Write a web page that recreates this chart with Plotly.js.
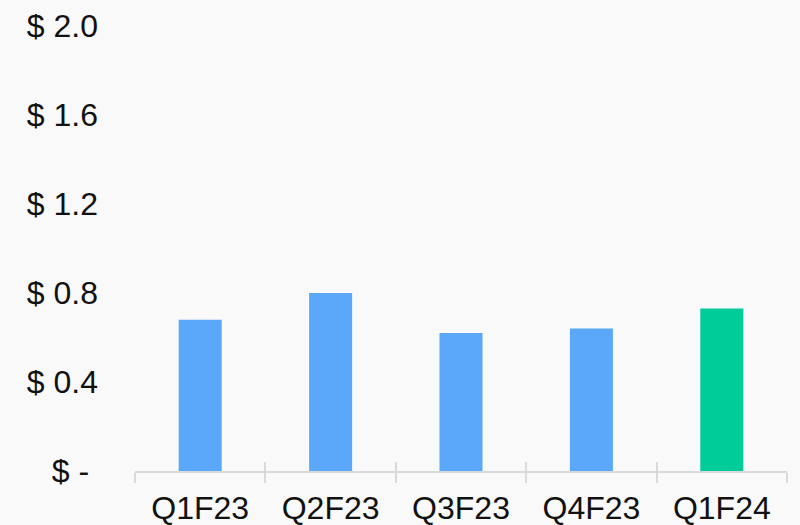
<!DOCTYPE html>
<html>
<head>
<meta charset="utf-8">
<script src="https://cdn.plot.ly/plotly-3.0.1.min.js"></script>
<style>
  html, body { margin: 0; padding: 0; background: #f9f9f9; }
  #chart { width: 800px; height: 525px; }
</style>
</head>
<body>
<div id="chart"></div>
<script>
// Quarterly values (USD)
const quarters = ["Q1F23", "Q2F23", "Q3F23", "Q4F23", "Q1F24"];
const values = [0.68, 0.80, 0.62, 0.64, 0.73];
const yTickVals = [0, 0.4, 0.8, 1.2, 1.6, 2.0];
const yTickText = ["$ -\u00a0", "$ 0.4", "$ 0.8", "$ 1.2", "$ 1.6", "$ 2.0"];

const BLUE = "#5ba8fb";
const GREEN = "#00cc9a";
const AXIS = "#d9d9d9";
const FONT = "Liberation Sans, Arial, sans-serif";
const TEXT = "#111111";

// latest quarter is highlighted
const barColors = quarters.map((q, i) => i === quarters.length - 1 ? GREEN : BLUE);

const bars = {
  type: "bar",
  x: quarters,
  y: values,
  marker: { color: barColors, line: { width: 0 } },
  hoverinfo: "x+y"
};

// invisible copy on an overlay axis, used only to draw the upward half of the boundary ticks
const tickHelper = {
  type: "bar",
  x: quarters,
  y: values,
  xaxis: "x2",
  opacity: 0,
  hoverinfo: "skip",
  showlegend: false
};

const layout = {
  width: 800,
  height: 525,
  paper_bgcolor: "#f9f9f9",
  plot_bgcolor: "#f9f9f9",
  margin: { l: 135, r: 13, t: 26, b: 54 },
  showlegend: false,
  bargap: 0.67,
  font: { family: FONT, size: 32, color: TEXT },
  xaxis: {
    type: "category",
    showline: true,
    linecolor: AXIS,
    linewidth: 2,
    ticks: "outside",
    tickson: "boundaries",
    ticklen: 10,
    tickwidth: 2,
    tickcolor: AXIS,
    showgrid: false,
    zeroline: false,
    ticklabelstandoff: 8,
    tickfont: { family: FONT, size: 32, color: TEXT }
  },
  xaxis2: {
    type: "category",
    overlaying: "x",
    side: "bottom",
    anchor: "y",
    showline: false,
    ticks: "inside",
    tickson: "boundaries",
    ticklen: 9,
    tickwidth: 2,
    tickcolor: AXIS,
    showgrid: false,
    zeroline: false,
    showticklabels: false
  },
  yaxis: {
    range: [0, 2],
    tickmode: "array",
    tickvals: yTickVals,
    ticktext: yTickText,
    showgrid: false,
    zeroline: false,
    showline: false,
    ticks: "",
    ticklabelstandoff: 36,
    tickfont: { family: FONT, size: 32, color: TEXT }
  }
};

Plotly.newPlot("chart", [bars, tickHelper], layout, { displayModeBar: false, staticPlot: true });
</script>
</body>
</html>
